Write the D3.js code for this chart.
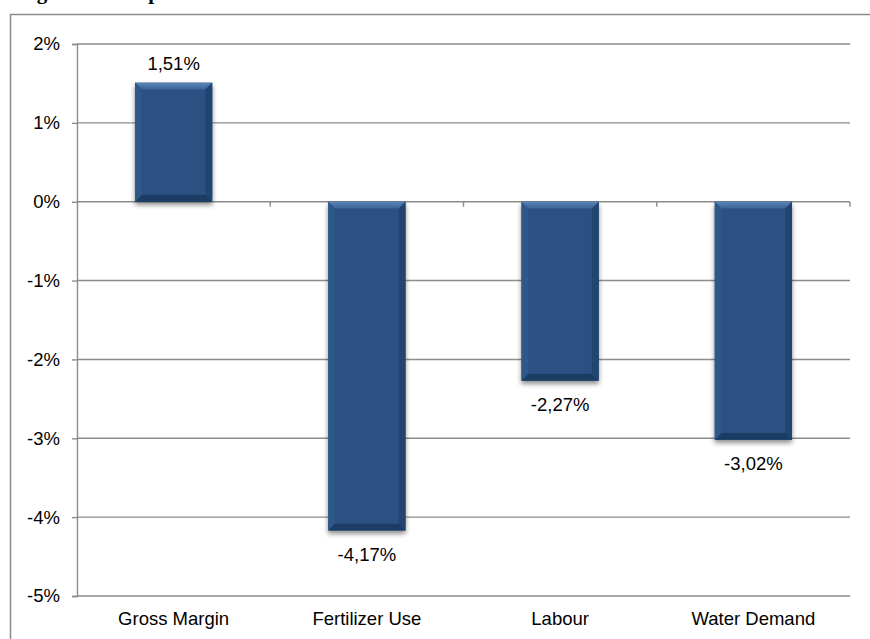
<!DOCTYPE html>
<html>
<head>
<meta charset="utf-8">
<script src="https://cdn.jsdelivr.net/npm/d3@7"></script>
<style>
  body { margin: 0; background: #fff; }
  svg { display: block; }
</style>
</head>
<body>
<div id="chart"></div>
<script>
// chart data
var categories = ["Gross Margin", "Fertilizer Use", "Labour", "Water Demand"];
var values = [1.51, -4.17, -2.27, -3.02];
var yTicks = [2, 1, 0, -1, -2, -3, -4, -5];

var W = 870, H = 639;
var margin = { top: 44, right: 20, bottom: 43, left: 77 };
var width = 850 - margin.left;
var height = 596 - margin.top;
var font = "18.5px 'Liberation Sans', Arial, sans-serif";

var svg = d3.select("#chart").append("svg")
    .attr("width", W)
    .attr("height", H);

var defs = svg.append("defs");

// soft shadow under each bar
var f = defs.append("filter").attr("id", "shadow")
    .attr("x", "-20%").attr("y", "-20%").attr("width", "140%").attr("height", "140%");
f.append("feGaussianBlur").attr("in", "SourceAlpha").attr("stdDeviation", 2.5);
f.append("feOffset").attr("dx", 0).attr("dy", 3).attr("result", "b");
f.append("feComponentTransfer").append("feFuncA").attr("type", "linear").attr("slope", 0.45);
var fm = f.append("feMerge");
fm.append("feMergeNode");
fm.append("feMergeNode").attr("in", "SourceGraphic");

// gradient for the top bevel
var tg = defs.append("linearGradient").attr("id", "topbev")
    .attr("x1", 0).attr("y1", 0).attr("x2", 0).attr("y2", 1);
tg.append("stop").attr("offset", "0%").attr("stop-color", "#5a84b8");
tg.append("stop").attr("offset", "100%").attr("stop-color", "#3a6398");

// title of the figure, mostly cut off by the top edge
svg.append("text")
    .attr("x", 18)
    .attr("y", -1)
    .style("font", "bold 21px 'Liberation Serif', 'DejaVu Serif', serif")
    .text("Figure 3: Comparison");

// outer frame
svg.append("rect")
    .attr("x", 10.5).attr("y", 14.5)
    .attr("width", 900).attr("height", 700)
    .style("fill", "none")
    .style("stroke", "#8a8a8a")
    .style("stroke-width", 1.5);

var g = svg.append("g")
    .attr("transform", "translate(" + margin.left + "," + margin.top + ")");

var x = d3.scaleBand().domain(categories).range([0, width]).paddingInner(0.6).paddingOuter(0.3);
var xb = d3.scaleBand().domain(categories).range([0, width]);
var y = d3.scaleLinear().domain([-5, 2]).range([height, 0]);

// horizontal gridlines
g.selectAll(".grid")
    .data(yTicks)
    .enter().append("line")
    .attr("x1", 0).attr("x2", width)
    .attr("y1", function(d) { return y(d); })
    .attr("y2", function(d) { return y(d); })
    .style("stroke", "#8c8c8c")
    .style("stroke-width", 1.4);

// y axis
var yAxis = g.append("g")
    .call(d3.axisLeft(y).tickValues(yTicks).tickSize(5).tickPadding(12)
        .tickFormat(function(d) { return d + "%"; }));
yAxis.select(".domain").style("stroke", "#8c8c8c").style("stroke-width", 1.4);
yAxis.selectAll(".tick line").style("stroke", "#8c8c8c").style("stroke-width", 1.4);
yAxis.selectAll("text")
    .style("font", font)
    .style("fill", "#000");

// category ticks on the zero line
g.selectAll(".ctick")
    .data(categories)
    .enter().append("line")
    .attr("x1", function(d) { return xb(d) + xb.bandwidth(); })
    .attr("x2", function(d) { return xb(d) + xb.bandwidth(); })
    .attr("y1", y(0)).attr("y2", y(0) + 5)
    .style("stroke", "#8c8c8c")
    .style("stroke-width", 1.4);

// bars with a bevelled look
var bw = x.bandwidth();
var bev = 7;
var bars = g.selectAll(".bar")
    .data(values)
    .enter().append("g")
    .attr("class", "bar")
    .attr("transform", function(d, i) {
        return "translate(" + x(categories[i]) + "," + y(Math.max(0, d)) + ")";
    })
    .style("filter", "url(#shadow)");

bars.each(function(d) {
    var b = d3.select(this);
    var h = Math.abs(y(d) - y(0));
    b.append("rect").attr("width", bw).attr("height", h).style("fill", "#2a5182");
    // top
    b.append("polygon")
        .attr("points", [[0, 0], [bw, 0], [bw - bev, bev], [bev, bev]].join(" "))
        .style("fill", "url(#topbev)");
    // left
    b.append("polygon")
        .attr("points", [[0, 0], [bev, bev], [bev, h - bev], [0, h]].join(" "))
        .style("fill", "#2e5889");
    // right
    b.append("polygon")
        .attr("points", [[bw, 0], [bw, h], [bw - bev, h - bev], [bw - bev, bev]].join(" "))
        .style("fill", "#21446f");
    // bottom
    b.append("polygon")
        .attr("points", [[0, h], [bev, h - bev], [bw - bev, h - bev], [bw, h]].join(" "))
        .style("fill", "#1d3c63");
    // inner face
    b.append("rect")
        .attr("x", bev).attr("y", bev)
        .attr("width", bw - 2 * bev).attr("height", Math.max(0, h - 2 * bev))
        .style("fill", "#2a5182");
});

// data labels
g.selectAll(".val")
    .data(values)
    .enter().append("text")
    .attr("x", function(d, i) { return x(categories[i]) + bw / 2; })
    .attr("y", function(d) { return d >= 0 ? y(d) - 13 : y(d) + 30; })
    .attr("text-anchor", "middle")
    .style("font", font)
    .style("fill", "#000")
    .text(function(d) { return d.toFixed(2).replace(".", ",") + "%"; });

// category labels
g.selectAll(".cat")
    .data(categories)
    .enter().append("text")
    .attr("x", function(d) { return xb(d) + xb.bandwidth() / 2; })
    .attr("y", height + 29)
    .attr("text-anchor", "middle")
    .style("font", font)
    .style("fill", "#000")
    .text(function(d) { return d; });
</script>
</body>
</html>
